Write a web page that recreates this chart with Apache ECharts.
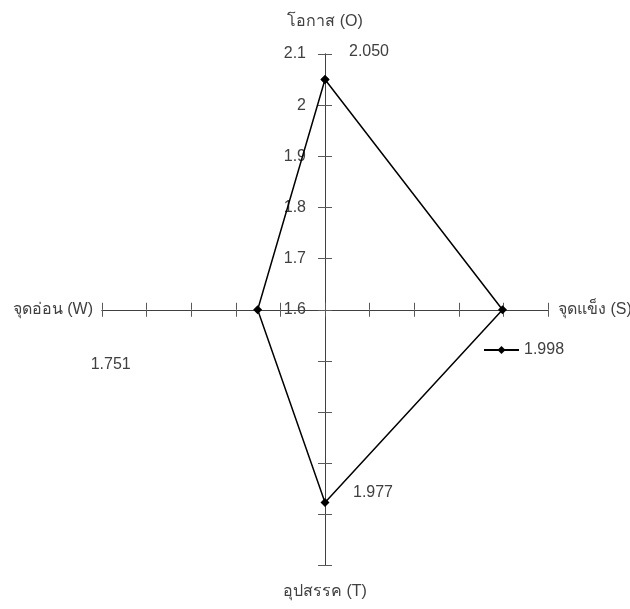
<!DOCTYPE html>
<html>
<head>
<meta charset="utf-8">
<script src="https://cdn.jsdelivr.net/npm/echarts@6/dist/echarts.min.js"></script>
<style>html,body{margin:0;padding:0;background:#fff}#chart{width:630px;height:609px}</style>
</head>
<body>
<div id="chart"></div>
<script>
// Data
var categories = ['จุดแข็ง (S)', 'จุดอ่อน (W)', 'โอกาส (O)', 'อุปสรรค (T)'];
var values = [1.998, 1.751, 2.050, 1.977];
var tickLabels = ['1.6', '1.7', '1.8', '1.9', '2', '2.1'];
var axisBase = 1.6;
var axisMax = 2.1;
var axisStep = 0.1;

var FONT = 'Liberation Sans, Noto Sans, DejaVu Sans, sans-serif';
var TXT = '#404040';
var span = +(axisMax - axisBase).toFixed(4);

var GRID = { left: 102, right: 82, top: 54, bottom: 43.5 };
var gridW = 630 - GRID.left - GRID.right;

// Map each SWOT arm to a direction of the cross
function pt(i) {
  var d = values[i] - axisBase;
  if (i === 0) return [d, 0];      // S -> right
  if (i === 1) return [-d, 0];     // W -> left
  if (i === 2) return [0, d];      // O -> up
  return [0, -d];                  // T -> down
}
var labelOffsets = { 2: [44, -28], 1: [-147, 55], 3: [48, -10] };
var order = [2, 0, 3, 1, 2];
var seriesData = order.map(function (i, k) {
  var item = { value: pt(i) };
  if (k < order.length - 1 && labelOffsets[i]) {
    item.label = { show: true, position: 'inside', offset: labelOffsets[i], formatter: values[i].toFixed(3) };
  }
  return item;
});

function valAxis(extra) {
  var base = {
    type: 'value', min: -span, max: span, interval: axisStep,
    splitLine: { show: false },
    axisLine: { show: true, onZero: true, onZeroAxisIndex: 0, lineStyle: { color: '#404040', width: 1 } },
    axisTick: { show: true, length: 7, lineStyle: { color: '#595959', width: 1 } },
    axisLabel: { show: false },
    nameTextStyle: { fontFamily: FONT, fontSize: 16, color: TXT }
  };
  for (var k in extra) {
    if (typeof extra[k] === 'object' && base[k] && !Array.isArray(extra[k])) {
      base[k] = Object.assign({}, base[k], extra[k]);
    } else base[k] = extra[k];
  }
  return base;
}

var chart = echarts.init(document.getElementById('chart'), null, { renderer: 'canvas' });
chart.setOption({
  animation: false,
  backgroundColor: '#fff',
  textStyle: { fontFamily: FONT },
  grid: { left: GRID.left, right: GRID.right, top: GRID.top, bottom: GRID.bottom, containLabel: false, outerBoundsMode: 'none' },
  legend: {
    left: 478, top: 337,
    itemWidth: 35, itemHeight: 10,
    data: ['SWOT'],
    formatter: function () { return values[0].toFixed(3); },
    textStyle: { fontFamily: FONT, fontSize: 16, color: TXT }
  },
  xAxis: [
    valAxis({ position: 'bottom', name: categories[0], nameLocation: 'end', nameGap: 10,
      axisTick: { inside: false } }),
    valAxis({ position: 'bottom', name: categories[1], nameLocation: 'start', nameGap: 9,
      axisTick: { inside: true } })
  ],
  yAxis: [
    valAxis({ position: 'left', offset: -gridW / 2, name: categories[2], nameLocation: 'end', nameGap: 24,
      axisLine: { onZero: false },
      axisTick: { inside: false },
      axisLabel: {
        show: true, margin: 19, fontFamily: FONT, fontSize: 16, color: TXT,
        formatter: function (v) {
          var idx = Math.round(v / axisStep);
          return idx >= 0 ? tickLabels[idx] : '';
        }
      } }),
    valAxis({ position: 'left', offset: -gridW / 2, name: categories[3], nameLocation: 'start', nameGap: 18,
      axisLine: { onZero: false },
      axisTick: { inside: true } })
  ],
  series: [{
    name: 'SWOT',
    type: 'line',
    xAxisIndex: 0, yAxisIndex: 0,
    data: seriesData,
    symbol: 'diamond', symbolSize: 9,
    itemStyle: { color: '#000' },
    lineStyle: { color: '#000', width: 1.5 },
    label: { show: false, fontFamily: FONT, fontSize: 16, color: TXT },
    emphasis: { disabled: true }
  }]
});
</script>
</body>
</html>
